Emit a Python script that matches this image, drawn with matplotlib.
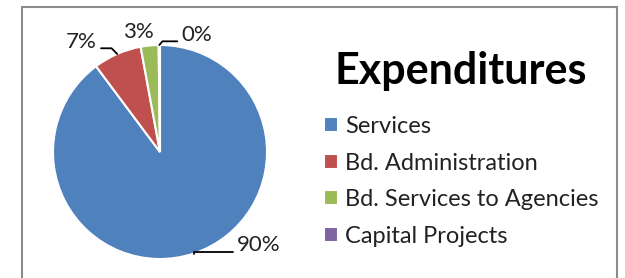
import numpy as np
import matplotlib.pyplot as plt
from matplotlib.patches import Rectangle

categories = ["Services", "Bd. Administration", "Bd. Services to Agencies", "Capital Projects"]
values = [89.8, 7.3, 2.7, 0.2]
pct_labels = ["90%", "7%", "3%", "0%"]
colors = ["#4F81BD", "#C0504D", "#9BBB59", "#8064A2"]

plt.rcParams["font.family"] = ["Lato", "DejaVu Sans"]

W, H = 625, 278
fig = plt.figure(figsize=(W / 100, H / 100), dpi=100)

# pie axes: centre (160, 152) px, radius 107 px
cx, cy, r = 160, 152, 107
ax = fig.add_axes([(cx - r) / W, (H - cy - r) / H, 2 * r / W, 2 * r / H])
wedges, _ = ax.pie(values, colors=colors, startangle=90, counterclock=False,
                   wedgeprops=dict(edgecolor="white", linewidth=1.5))
ax.set_xlim(-1, 1)
ax.set_ylim(-1, 1)
ax.set_aspect("equal")
ax.axis("off")

# label text positions (data units, baseline) and connector styles
text_pos = [(0.72, -0.925), (-0.59, 0.975), (-0.2, 1.065), (0.2, 1.04)]
aligns = ["left", "right", "center", "left"]
conns = ["angle,angleA=0,angleB=90,rad=0", "angle,angleA=0,angleB=135,rad=0",
         None, "angle,angleA=0,angleB=50,rad=0"]
rel = [(0, 0.17), (1, 0.17), None, (0, 0.17)]
for w, lab, pos, ha, cs, rp in zip(wedges, pct_labels, text_pos, aligns, conns, rel):
    mid = np.deg2rad((w.theta1 + w.theta2) / 2)
    edge = (np.cos(mid), np.sin(mid))
    props = None
    if cs is not None:
        props = dict(arrowstyle="-", color="black", lw=1.3, connectionstyle=cs,
                     shrinkA=1, shrinkB=0, relpos=rp)
    ax.annotate(lab, xy=edge, xytext=pos, ha=ha, va="baseline", fontsize=16,
                color="#222222", arrowprops=props, annotation_clip=False)

fig.text(461 / W, 1 - 84 / H, "Expenditures", fontsize=31, fontweight="bold",
         ha="center", va="baseline")

leg = fig.legend(wedges, categories, loc="upper left", bbox_to_anchor=(324 / W, 1 - 116 / H),
                 frameon=False, fontsize=17, handlelength=0.6, handleheight=0.6,
                 handletextpad=0.3, labelspacing=0.66, borderpad=0, borderaxespad=0)
for t in leg.get_texts():
    t.set_color("#222222")

fig.add_artist(Rectangle((22 / W, -0.1), 595 / W, 1.1 - 7 / H, transform=fig.transFigure,
                         fill=False, edgecolor="#8c8c8c", lw=1.5))

fig.savefig("out.png", dpi=100)
